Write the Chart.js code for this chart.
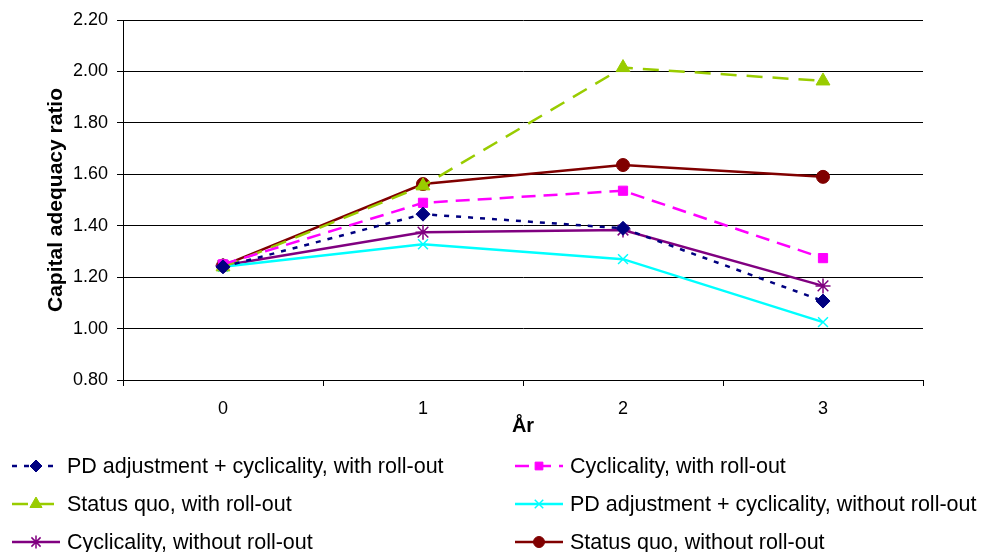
<!DOCTYPE html>
<html>
<head>
<meta charset="utf-8">
<script src="https://cdn.jsdelivr.net/npm/chart.js@4/dist/chart.umd.min.js"></script>
<style>
  html, body { margin: 0; padding: 0; background: #fff; }
  #wrap { position: relative; width: 981px; height: 552px; }
</style>
</head>
<body>
<div id="wrap"><canvas id="capChart"></canvas></div>
<script>
// Data
var years = ['0', '1', '2', '3'];
var pdCycWith = [1.24, 1.445, 1.39, 1.107];
var cycWith = [1.25, 1.489, 1.536, 1.274];
var sqWith = [1.24, 1.555, 2.015, 1.963];
var pdCycWithout = [1.24, 1.328, 1.27, 1.025];
var cycWithout = [1.245, 1.375, 1.383, 1.166];
var sqWithout = [1.245, 1.562, 1.636, 1.59];
var yTicks = [0.8, 1.0, 1.2, 1.4, 1.6, 1.8, 2.0, 2.2];

var FONT = "'Liberation Sans', Arial, sans-serif";

function series(label, data, color, style, radius, dash) {
    return {
        label: label,
        data: data,
        borderColor: color,
        backgroundColor: color,
        borderWidth: 2.5,
        borderDash: dash,
        pointStyle: style,
        pointRadius: radius,
        pointBorderWidth: (style == 'star' || style == 'crossRot') ? 1.5 : 1,
        pointBorderColor: color,
        pointBackgroundColor: color,
        tension: 0
    };
}

var datasets = [
    series('PD adjustment + cyclicality, with roll-out', pdCycWith, '#000080', 'rectRot', 7, [5, 7]),
    series('Cyclicality, with roll-out', cycWith, '#ff00ff', 'rect', 6.5, [14, 8]),
    series('Status quo, with roll-out', sqWith, '#99cc00', 'triangle', 8, [16, 10]),
    series('PD adjustment + cyclicality, without roll-out', pdCycWithout, '#00ffff', 'crossRot', 7, []),
    series('Cyclicality, without roll-out', cycWithout, '#800080', 'star', 7.5, []),
    series('Status quo, without roll-out', sqWithout, '#800000', 'circle', 6.5, [])
];

// Legend drawn below the plot in two columns
var legendPlugin = {
    id: 'twoColLegend',
    afterDraw: function (chart) {
        var ctx = chart.ctx;
        var cols = [{ x0: 12, x1: 60, text: 67 }, { x0: 515, x1: 563, text: 570 }];
        var rows = [466, 504, 542];
        chart.data.datasets.forEach(function (ds, i) {
            var c = cols[i % 2], y = rows[Math.floor(i / 2)];
            ctx.save();
            ctx.strokeStyle = ds.borderColor;
            ctx.lineWidth = 2.5;
            ctx.setLineDash(ds.borderDash);
            ctx.beginPath();
            ctx.moveTo(c.x0, y);
            ctx.lineTo(c.x1, y);
            ctx.stroke();
            ctx.setLineDash([]);
            ctx.fillStyle = ds.backgroundColor;
            ctx.lineWidth = ds.pointBorderWidth;
            Chart.helpers.drawPoint(ctx, {
                pointStyle: ds.pointStyle, radius: ds.pointRadius - 1, rotation: 0, borderWidth: ds.pointBorderWidth
            }, (c.x0 + c.x1) / 2, y);
            ctx.fillStyle = '#000';
            ctx.font = '21.5px ' + FONT;
            ctx.textBaseline = 'middle';
            ctx.fillText(ds.label, c.text, y + 1);
            ctx.restore();
        });
    }
};

var ctx = document.getElementById('capChart');
var capChart = new Chart(ctx, {
    type: 'line',
    data: { labels: years, datasets: datasets },
    plugins: [legendPlugin],
    options: {
        responsive: true,
        maintainAspectRatio: false,
        animation: false,
        layout: { padding: { top: 20, right: 58, bottom: 112, left: 44 } },
        plugins: { legend: { display: false }, tooltip: { enabled: false } },
        scales: {
            x: {
                offset: true,
                grid: { display: true, drawOnChartArea: false, offset: true, tickLength: 6, color: '#000' },
                border: { display: true, color: '#000', width: 1 },
                ticks: { color: '#000', font: { family: FONT, size: 18 }, padding: 12 },
                title: { display: true, text: 'År', color: '#000', font: { family: FONT, size: 20, weight: 'bold' }, padding: { top: 0, bottom: 2 } },
                afterFit: function (scale) { scale.height = 60; }
            },
            y: {
                min: 0.8,
                max: 2.2,
                afterBuildTicks: function (scale) {
                    scale.ticks = yTicks.map(function (v) { return { value: v }; });
                },
                grid: { color: '#000', lineWidth: 1, tickLength: 6, tickColor: '#000' },
                border: { display: true, color: '#000', width: 1 },
                ticks: {
                    color: '#000', font: { family: FONT, size: 18 }, padding: 9,
                    callback: function (v) { return Number(v).toFixed(2); }
                },
                title: { display: true, text: 'Capital adequacy ratio', color: '#000', font: { family: FONT, size: 21, weight: 'bold' }, padding: { top: 0, bottom: 4 } },
                afterFit: function (scale) { scale.width = 79; }
            }
        }
    }
});
</script>
</body>
</html>
